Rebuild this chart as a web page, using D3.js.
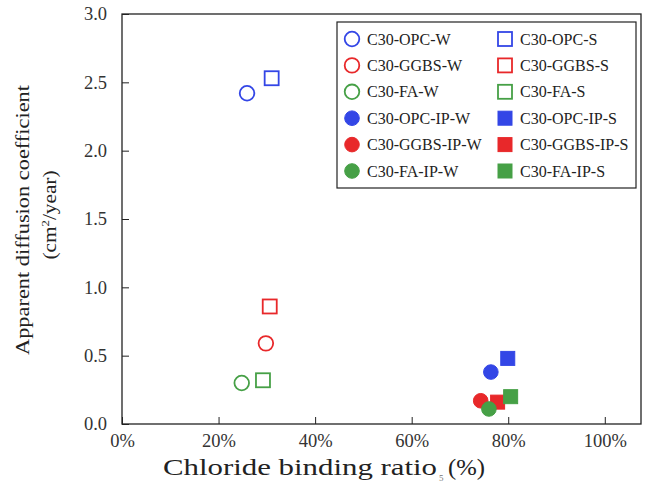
<!DOCTYPE html>
<meta charset="utf-8">
<html>
  <head>
    <style>
      body { margin: 0; background: #fff; }
      text { font-family: "Liberation Serif", "DejaVu Serif", serif; fill: #222; }
    </style>
    <script src="https://d3js.org/d3.v7.min.js"></script>
  </head>
  <body>
<div id="my_dataviz"></div>
<script>

// series
var names   = ["C30-OPC-W", "C30-OPC-S", "C30-GGBS-W", "C30-GGBS-S", "C30-FA-W", "C30-FA-S",
               "C30-OPC-IP-W", "C30-OPC-IP-S", "C30-GGBS-IP-W", "C30-GGBS-IP-S", "C30-FA-IP-W", "C30-FA-IP-S"]
var binding = [25.9, 31.0, 29.8, 30.6, 24.8, 29.2, 76.4, 79.9, 74.3, 77.8, 76.0, 80.5]
var coeff   = [2.42, 2.53, 0.59, 0.86, 0.30, 0.32, 0.38, 0.48, 0.17, 0.16, 0.11, 0.20]
var xTicks  = [0, 20, 40, 60, 80, 100]
var yTicks  = [0, 0.5, 1.0, 1.5, 2.0, 2.5, 3.0]

var colorOf = {OPC: "#3346e6", GGBS: "#e8282a", FA: "#46a046"}

function info(name) {
  var parts = name.split("-")
  return {
    mix: parts[1],
    filled: name.indexOf("-IP-") >= 0,
    square: parts[parts.length - 1] == "S"
  }
}

var margin = {top: 14, right: 7, bottom: 62, left: 122},
  width = 648 - margin.left - margin.right,
  height = 486 - margin.top - margin.bottom

var svg = d3.select("#my_dataviz")
  .append("svg")
  .attr("width", 648)
  .attr("height", 486)
  .append("g")
  .attr("transform", "translate(" + margin.left + "," + margin.top + ")")

var x = d3.scaleLinear().domain([0, 107.5]).range([0, width])
var y = d3.scaleLinear().domain([0, 3.0]).range([height, 0])

// frame
svg.append("rect")
  .attr("width", width).attr("height", height)
  .attr("fill", "none").attr("stroke", "#222").attr("stroke-width", 1.3)

// x axis, ticks pointing inward
var xa = svg.append("g")
  .attr("transform", "translate(0," + height + ")")
  .call(d3.axisBottom(x).tickValues(xTicks).tickSizeInner(-7).tickSizeOuter(0).tickPadding(10)
    .tickFormat(function(d) { return d + "%" }))
xa.select(".domain").remove()
xa.selectAll("line").attr("stroke", "#222")
xa.selectAll("text").style("font-size", "18.5px").style("fill", "#333")

var ya = svg.append("g")
  .call(d3.axisLeft(y).tickValues(yTicks).tickSizeInner(-7).tickSizeOuter(0).tickPadding(15)
    .tickFormat(d3.format(".1f")))
ya.select(".domain").remove()
ya.selectAll("line").attr("stroke", "#222")
ya.selectAll("text").style("font-size", "18.5px").style("fill", "#333")

// axis titles
svg.append("text")
  .attr("x", 41).attr("y", height + 51)
  .attr("textLength", 274).attr("lengthAdjust", "spacingAndGlyphs")
  .style("font-size", "23px")
  .text("Chloride binding ratio")
svg.append("text")
  .attr("x", 326).attr("y", height + 51)
  .attr("textLength", 37).attr("lengthAdjust", "spacingAndGlyphs")
  .style("font-size", "23px")
  .text("(%)")
svg.append("text")
  .attr("x", 317).attr("y", height + 57)
  .style("font-size", "9px").style("fill", "#777")
  .text("5")

svg.append("text")
  .attr("transform", "translate(-93,206) rotate(-90)")
  .attr("text-anchor", "middle")
  .attr("textLength", 270).attr("lengthAdjust", "spacingAndGlyphs")
  .style("font-size", "18.5px")
  .text("Apparent diffusion coefficient")
var unit = svg.append("text")
  .attr("transform", "translate(-66,201) rotate(-90) scale(1.15,1)")
  .attr("text-anchor", "middle")
  .style("font-size", "18.5px")
unit.append("tspan").text("(cm")
unit.append("tspan").attr("dy", -7).style("font-size", "11px").text("2")
unit.append("tspan").attr("dy", 7).text("/year)")

// markers
function drawMarker(g, name, cx, cy) {
  var m = info(name), c = colorOf[m.mix]
  var el
  if (m.square) {
    el = g.append("rect")
      .attr("x", cx - 7).attr("y", cy - 7)
      .attr("width", 14).attr("height", 14)
  } else {
    el = g.append("circle").attr("cx", cx).attr("cy", cy).attr("r", 7.3)
  }
  el.attr("fill", m.filled ? c : "none")
    .attr("stroke", c)
    .attr("stroke-width", m.filled ? 1 : 1.8)
}

var pts = svg.append("g")
names.forEach(function(n, i) {
  drawMarker(pts, n, x(binding[i]), y(coeff[i]))
})

// legend
var lg = svg.append("g").attr("transform", "translate(215,8)")
lg.append("rect")
  .attr("width", 299).attr("height", 166)
  .attr("fill", "#fff").attr("stroke", "#222").attr("stroke-width", 1.2)
names.forEach(function(n, i) {
  var col = i % 2, row = Math.floor(i / 2)
  var lx = 15 + col * 153, ly = 17 + row * 26.4
  drawMarker(lg, n, lx, ly)
  lg.append("text")
    .attr("x", lx + 15).attr("y", ly + 5.5)
    .style("font-size", "16px")
    .text(n)
})

</script>
</body>
</html>
